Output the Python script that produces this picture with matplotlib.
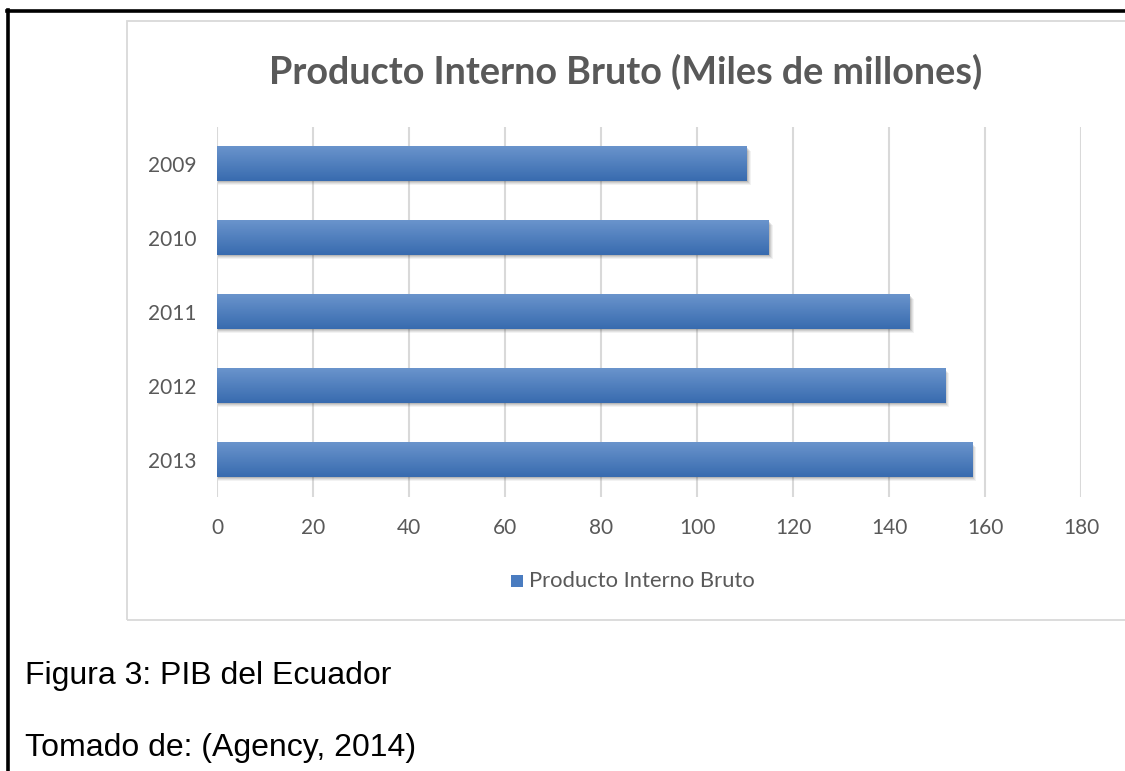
import numpy as np
import matplotlib
matplotlib.use("Agg")
import matplotlib.pyplot as plt
from matplotlib.patches import Rectangle
from matplotlib.lines import Line2D

# PIB del Ecuador, miles de millones
years = ["2009", "2010", "2011", "2012", "2013"]
pib = [110.4, 115.0, 144.3, 151.7, 157.3]
x_ticks = [0, 20, 40, 60, 80, 100, 120, 140, 160, 180]

GRAY_TEXT = "#595959"
GRID = "#d9d9d9"
BAR_TOP = np.array([0x6a, 0x94, 0xcc]) / 255
BAR_BOT = np.array([0x38, 0x6b, 0xaf]) / 255

fig = plt.figure(figsize=(11.25, 7.71), dpi=100)
W, H = 1125, 771

def fx(px):
    return px / W

def fy(py):
    return 1 - py / H

# outer page frame (black) and chart area frame (light gray)
fig.add_artist(Line2D([fx(7), fx(1125)], [fy(11), fy(11)], color="black", lw=2.6))
fig.add_artist(Line2D([fx(8), fx(8)], [fy(10), fy(771)], color="black", lw=2.6))
fig.add_artist(Rectangle((fx(127), fy(620)), fx(1125 - 127 + 10), fy(21) - fy(620),
                         fill=False, edgecolor=GRID, lw=1.3))

ax = fig.add_axes([fx(217), fy(497), fx(1081 - 217), fy(127) - fy(497)])

ypos = np.arange(len(years))
bar_h = 0.46
px_x = 180 / (1081 - 217)   # data units per pixel
px_y = 1 / 74.0
grad = np.linspace(0, 1, 64)[:, None, None]
grad_img = BAR_TOP[None, None, :] * (1 - grad) + BAR_BOT[None, None, :] * grad

for y, v in zip(ypos, pib):
    # soft drop shadow below and to the right
    for k, a in enumerate([0.06, 0.08, 0.10, 0.14]):
        off = 4 - k
        ax.add_patch(Rectangle((1 * px_x, y - bar_h / 2 + off * px_y),
                               v + (off - 1) * px_x, bar_h,
                               facecolor="#303030", edgecolor="none", alpha=a, zorder=2))
    ax.imshow(grad_img, extent=[0, v, y + bar_h / 2, y - bar_h / 2],
              aspect="auto", interpolation="bilinear", zorder=3)

ax.set_xlim(0, 180)
ax.set_ylim(len(years) - 0.5, -0.5)
ax.set_xticks(x_ticks)
ax.set_yticks(ypos)
ax.set_yticklabels(years)
ax.grid(axis="x", color=GRID, lw=1.5, zorder=0)
ax.set_axisbelow(True)
for s in ax.spines.values():
    s.set_visible(False)
ax.tick_params(length=0, labelsize=15, labelcolor=GRAY_TEXT)
ax.tick_params(axis="x", pad=15)
ax.tick_params(axis="y", pad=15)
for lab in ax.get_xticklabels() + ax.get_yticklabels():
    lab.set_fontfamily("Lato")

# chart title
fig.text(fx(626), fy(84), "Producto Interno Bruto (Miles de millones)", ha="center",
         va="baseline", fontsize=27.2, fontweight="bold", color=GRAY_TEXT, family="Lato")

# legend
fig.add_artist(Rectangle((fx(511), fy(587)), fx(12), fy(575) - fy(587),
                         facecolor="#4a7cc0", edgecolor="none"))
fig.text(fx(529), fy(581), "Producto Interno Bruto", ha="left", va="center",
         fontsize=15.8, color=GRAY_TEXT, family="Lato")

# captions below the chart
fig.text(fx(25), fy(676), "Figura 3: PIB del Ecuador", ha="left", va="center",
         fontsize=23, color="black", family="Liberation Sans")
fig.text(fx(25), fy(748), "Tomado de: (Agency, 2014)", ha="left", va="center",
         fontsize=23, color="black", family="Liberation Sans")

fig.savefig("out.png", dpi=100)
